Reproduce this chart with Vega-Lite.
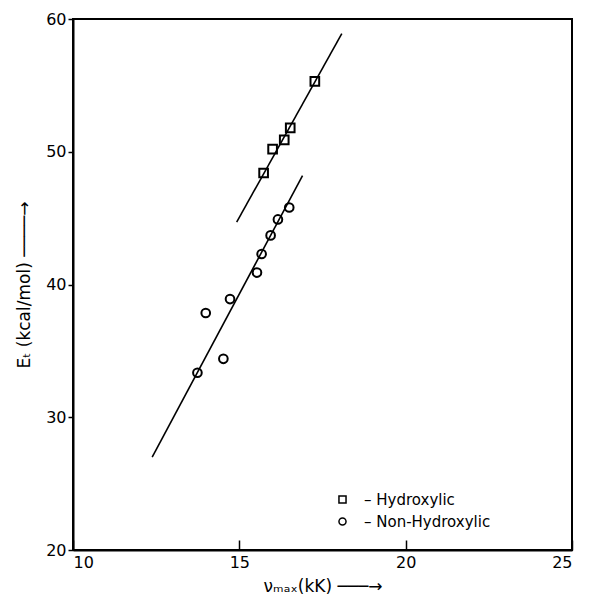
{
  "$schema": "https://vega.github.io/schema/vega-lite/v6.json",
  "autosize": "none",
  "width": 499,
  "height": 531,
  "padding": {"left": 73, "top": 19, "right": 18, "bottom": 52},
  "background": "white",
  "config": {
    "view": {"stroke": "black", "strokeWidth": 2},
    "font": "DejaVu Sans",
    "axis": {
      "grid": false,
      "domainColor": "black",
      "domainWidth": 2,
      "tickColor": "black",
      "tickWidth": 1.5,
      "labelColor": "black",
      "labelFont": "DejaVu Sans",
      "labelFontSize": 16,
      "titleFont": "DejaVu Sans",
      "titleFontSize": 17,
      "titleFontWeight": "normal",
      "titleColor": "black"
    }
  },
  "datasets": {
    "points": [
      {"nu": 15.73, "ET": 48.4, "type": "Hydroxylic"},
      {"nu": 16.0, "ET": 50.2, "type": "Hydroxylic"},
      {"nu": 16.35, "ET": 50.9, "type": "Hydroxylic"},
      {"nu": 16.53, "ET": 51.8, "type": "Hydroxylic"},
      {"nu": 17.27, "ET": 55.3, "type": "Hydroxylic"},
      {"nu": 16.5, "ET": 45.8, "type": "Non-Hydroxylic"},
      {"nu": 16.16, "ET": 44.9, "type": "Non-Hydroxylic"},
      {"nu": 15.94, "ET": 43.7, "type": "Non-Hydroxylic"},
      {"nu": 15.67, "ET": 42.3, "type": "Non-Hydroxylic"},
      {"nu": 15.53, "ET": 40.9, "type": "Non-Hydroxylic"},
      {"nu": 14.72, "ET": 38.9, "type": "Non-Hydroxylic"},
      {"nu": 13.99, "ET": 37.85, "type": "Non-Hydroxylic"},
      {"nu": 14.52, "ET": 34.4, "type": "Non-Hydroxylic"},
      {"nu": 13.74, "ET": 33.35, "type": "Non-Hydroxylic"}
    ],
    "fits": [
      {"nu": 14.92, "ET": 44.7, "type": "Hydroxylic"},
      {"nu": 18.08, "ET": 58.9, "type": "Hydroxylic"},
      {"nu": 12.38, "ET": 27.0, "type": "Non-Hydroxylic"},
      {"nu": 16.9, "ET": 48.2, "type": "Non-Hydroxylic"}
    ]
  },
  "layer": [
    {
      "data": {"name": "fits"},
      "mark": {"type": "line", "color": "black", "strokeWidth": 1.6},
      "encoding": {
        "x": {"field": "nu", "type": "quantitative"},
        "y": {"field": "ET", "type": "quantitative"},
        "detail": {"field": "type"}
      }
    },
    {
      "data": {"name": "points"},
      "mark": {"type": "point", "filled": false, "color": "black", "strokeWidth": 2, "opacity": 1, "size": 75},
      "encoding": {
        "x": {
          "field": "nu", "type": "quantitative",
          "scale": {"domain": [10, 25], "nice": false, "zero": false},
          "axis": {"values": [10, 15, 20, 25], "tickSize": -10, "labelPadding": 14, "title": "νₘₐₓ(kK)    ───→", "titlePadding": 8}
        },
        "y": {
          "field": "ET", "type": "quantitative",
          "scale": {"domain": [20, 60], "nice": false, "zero": false},
          "axis": {"values": [20, 30, 40, 50, 60], "tickSize": 5, "labelPadding": 2, "title": "Eₜ (kcal/mol)       ────→", "titlePadding": 12}
        },
        "shape": {
          "field": "type", "type": "nominal",
          "scale": {"domain": ["Hydroxylic", "Non-Hydroxylic"], "range": ["square", "circle"]},
          "legend": {
            "orient": "none", "legendX": 262, "legendY": 473, "title": null,
            "labelExpr": "'–  ' + datum.label",
            "labelFontSize": 15, "labelColor": "black", "labelFont": "DejaVu Sans",
            "labelOffset": 14,
            "symbolStrokeColor": "black", "symbolStrokeWidth": 1.5, "symbolOpacity": 1,
            "symbolSize": 50, "rowPadding": 6
          }
        }
      }
    }
  ]
}
